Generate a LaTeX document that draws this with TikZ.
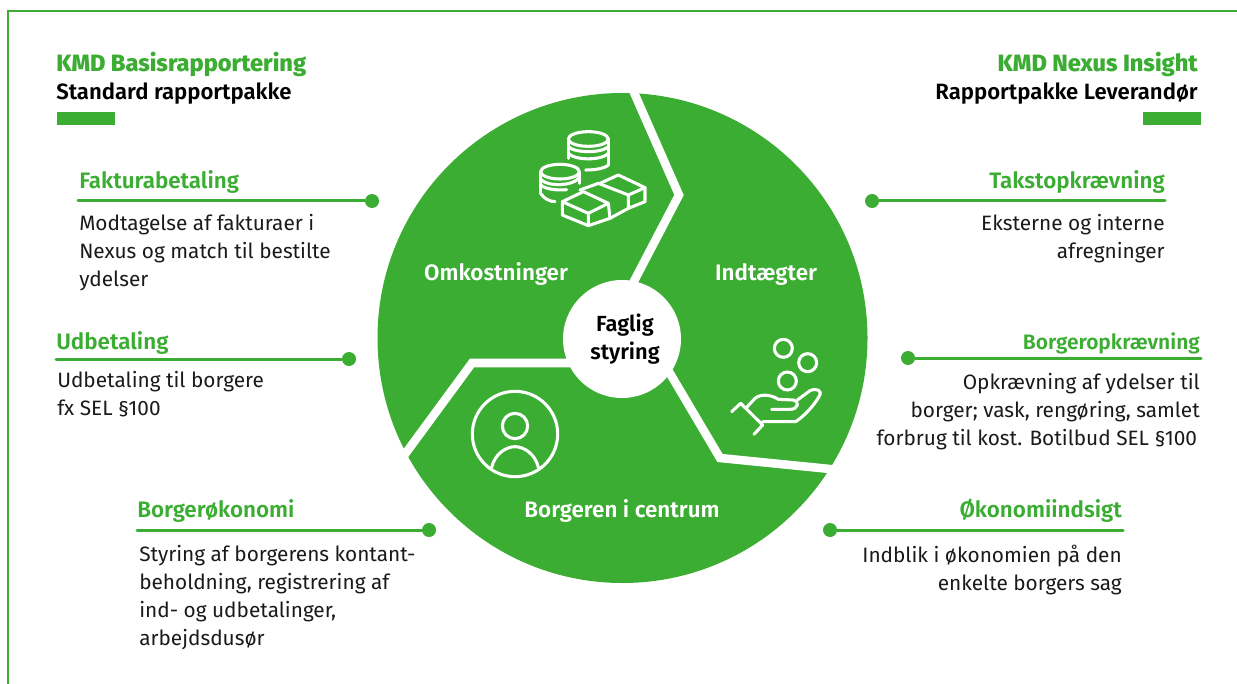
\documentclass[tikz,border=0pt]{standalone}
\usepackage{fontspec}
\setmainfont{Fira Sans}
\newfontfamily\heavy{Fira Sans ExtraBold}
\newfontfamily\semi{Fira Sans SemiBold}
\definecolor{kg}{HTML}{3BAD32}
\definecolor{tx}{HTML}{1A1A1A}
\tikzset{
 body/.style={inner sep=0pt,text=tx,font=\fontsize{15.6}{21}\selectfont,anchor=north west,align=left},
 bodyr/.style={inner sep=0pt,text=tx,font=\fontsize{15.6}{21}\selectfont,anchor=north east,align=right},
 ttl/.style={inner sep=0pt,text=kg,font=\fontsize{17.7}{18}\selectfont\heavy},
 head/.style={inner sep=0pt,text=kg,font=\fontsize{16.8}{18}\selectfont\semi},
 sub/.style={inner sep=0pt,text=black,font=\fontsize{16.6}{18}\selectfont\semi},
 ring/.style={inner sep=0pt,text=white,font=\fontsize{16.8}{18}\selectfont\semi},
 dot/.style={circle,fill=kg,draw=none,minimum size=10.5pt,inner sep=0pt},
 rule/.style={draw=kg,line width=2.25pt,line cap=round},
 divider/.style={draw=white,line width=6.4pt,line join=miter},
 ico/.style={draw=white,line width=2.3pt,line cap=round,line join=round},
}
\begin{document}
\begin{tikzpicture}[x=.75pt,y=-.75pt]
\useasboundingbox (0,0) rectangle (1237,684);
\draw[kg,line width=1.7pt] (8,684) -- (8,11) -- (1237,11);
% wheel
\fill[kg] (622.5,338) circle[radius=245];
\draw[divider] (632,88) -- (679,195) -- (632,285);
\draw[divider] (570,363) -- (472,363) -- (400,461);
\draw[divider] (665,365) -- (720,458) -- (850,471);
\node[circle,fill=white,minimum size=88.5pt,inner sep=0pt] (hub) at (622,339) {};
\node[inner sep=0pt,text=black,align=center,font=\fontsize{16.4}{20.5}\selectfont\semi] (faglig) at (625,339) {Faglig\\styring};
\node[ring] (omk) at (496,274) {Omkostninger};
\node[ring] (ind) at (766,274) {Indtægter};
\node[ring] (bor) at (622,511) {Borgeren i centrum};
% coins icon
\begin{scope}[shift={(500,90)},x=.25pt,y=-.25pt]
\draw[ico] (265,147) ellipse[x radius=60,y radius=22];
\draw[ico] (205,147) -- (205,205);
\draw[ico] (325,147) -- (325,225);
\draw[ico] (205,170) .. controls (225,190) and (305,190) .. (325,170);
\draw[ico] (205,190) .. controls (225,212) and (305,212) .. (325,190);
\draw[ico] (257,240) .. controls (285,240) and (315,235) .. (325,225);
\draw[ico] (180,245) ellipse[x radius=58,y radius=22];
\draw[ico] (122,245) -- (122,310);
\draw[ico] (238,245) -- (238,280);
\draw[ico] (122,268) .. controls (140,290) and (220,290) .. (238,262);
\draw[ico] (122,285) .. controls (135,297) and (170,302) .. (200,299);
\draw[ico] (122,310) .. controls (130,325) and (150,335) .. (165,335);
\draw[ico] (187,335) -- (250,305) -- (325,340) -- (265,370) -- cycle;
\draw[ico] (187,335) -- (187,375) -- (265,407) -- (265,370);
\draw[ico] (325,340) -- (330,385) -- (265,407);
\draw[ico] (240,300) -- (295,280) -- (385,315) -- (385,355) -- (330,385);
\draw[ico] (300,280) -- (355,255) -- (435,293) -- (385,315);
\draw[ico] (435,293) -- (435,335) -- (385,355);
\end{scope}
% hand icon
\begin{scope}[shift={(700,320)},x=.25pt,y=-.25pt]
\draw[ico] (250,85) circle[radius=27];
\draw[ico] (323,128) circle[radius=27];
\draw[ico] (262,183) circle[radius=27];
\draw[ico] (95,275) -- (122,250) -- (188,315) -- (162,343);
\draw[ico] (140,262) -- (165,235) .. controls (180,222) and (210,222) .. (235,238) -- (280,240) .. controls (300,245) and (295,268) .. (270,268) -- (215,268);
\draw[ico] (292,240) -- (330,212) .. controls (350,203) and (368,212) .. (358,228) .. controls (340,260) and (310,290) .. (287,305) -- (188,305);
\end{scope}
% person icon
\begin{scope}[shift={(390,340)},x=.25pt,y=-.25pt]
\draw[ico] (375,282) circle[radius=128];
\draw[ico] (375,258) circle[radius=38];
\draw[ico] (305,382) .. controls (315,340) and (350,320) .. (375,320) .. controls (400,320) and (435,340) .. (445,382);
\end{scope}
% headers
\node[ttl,anchor=base west] (t1) at (56,72) {KMD Basisrapportering};
\node[sub,anchor=base west] (s1) at (56,100) {Standard rapportpakke};
\fill[kg] (57,112) rectangle (115,125);
\node[ttl,anchor=base east] (t2) at (1198,72) {KMD Nexus Insight};
\node[sub,anchor=base east] (s2) at (1198,100) {Rapportpakke Leverandør};
\fill[kg] (1143,112) rectangle (1201,125);
% left items
\node[head,anchor=base west] (h1) at (79,189) {Fakturabetaling};
\coordinate (c1) at (78,201);
\node[dot] (d1) at (372,201) {};
\draw[rule] (c1) -- (d1);
\node[body] (b1) at (79,214) {Modtagelse af fakturaer i\\Nexus og match til bestilte\\ydelser};
\node[head,anchor=base west] (h2) at (56,349) {Udbetaling};
\coordinate (c2) at (56,359);
\node[dot] (d2) at (349,359) {};
\draw[rule] (c2) -- (d2);
\node[body] (b2) at (57,371) {Udbetaling til borgere\\fx SEL §100};
\node[head,anchor=base west] (h3) at (137,517) {Borgerøkonomi};
\coordinate (c3) at (137,530);
\node[dot] (d3) at (429,530) {};
\draw[rule] (c3) -- (d3);
\node[body] (b3) at (139,545) {Styring af borgerens kontant-\\beholdning, registrering af\\ind- og udbetalinger,\\arbejdsdusør};
% right items
\node[head,anchor=base east] (h4) at (1165,189) {Takstopkrævning};
\coordinate (c4) at (1165,201);
\node[dot] (d4) at (872,201) {};
\draw[rule] (c4) -- (d4);
\node[bodyr] (b4) at (1165,214) {Eksterne og interne\\afregninger};
\node[head,anchor=base east,font=\fontsize{15.7}{18}\selectfont\semi] (h5) at (1200,349) {Borgeropkrævning};
\coordinate (c5) at (1201,358);
\node[dot] (d5) at (908,358) {};
\draw[rule] (c5) -- (d5);
\node[bodyr] (b5) at (1200,373) {Opkrævning af ydelser til\\borger; vask, rengøring, samlet\\forbrug til kost. Botilbud SEL §100\hspace*{2pt}};
\node[head,anchor=base east] (h6) at (1122,517) {Økonomiindsigt};
\coordinate (c6) at (1123,530);
\node[dot] (d6) at (830,530) {};
\draw[rule] (c6) -- (d6);
\node[bodyr] (b6) at (1122,545) {Indblik i økonomien på den\\enkelte borgers sag};
\end{tikzpicture}
\end{document}
